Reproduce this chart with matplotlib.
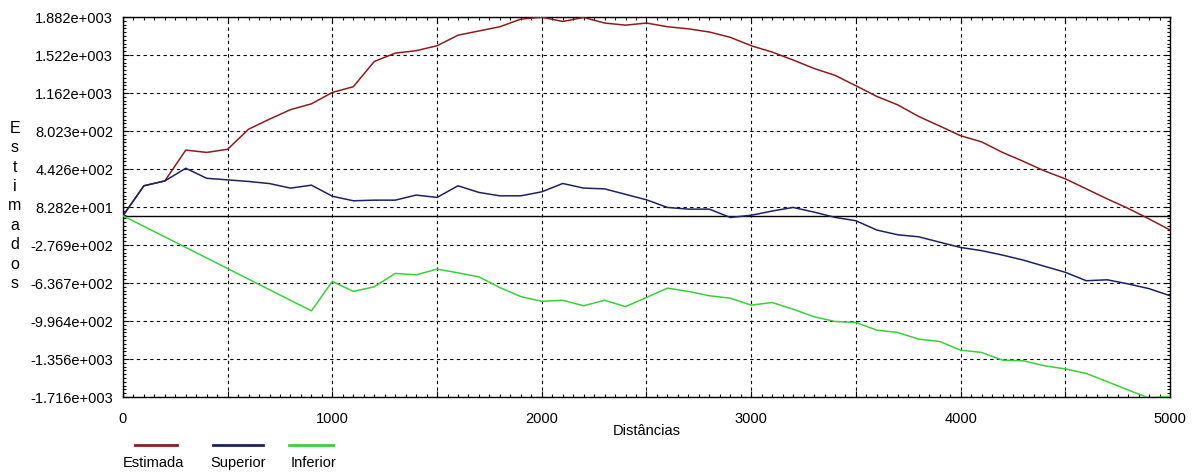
import matplotlib
matplotlib.use("Agg")
import matplotlib.pyplot as plt
import numpy as np
from matplotlib.lines import Line2D
from matplotlib.ticker import MultipleLocator, FixedLocator

plt.rcParams['font.family'] = ['Liberation Sans', 'DejaVu Sans']

distancias = np.arange(0, 5001, 100)

estimada = [0, 284, 330, 622, 600, 630, 820, 915, 1005, 1060,
            1168, 1222, 1461, 1540, 1563, 1610, 1710, 1750, 1790, 1862,
            1880, 1840, 1878, 1825, 1805, 1825, 1790, 1770, 1740, 1690,
            1610, 1550, 1475, 1395, 1330, 1231, 1130, 1050, 940, 850,
            758, 700, 600, 515, 425, 350, 255, 160, 70, -30,
            -135]

superior = [0, 284, 330, 450, 355, 340, 325, 305, 262, 290,
            185, 142, 148, 148, 196, 174, 284, 221, 189, 189,
            227, 306, 262, 255, 203, 151, 79, 63, 63, -16,
            5, 45, 79, 35, -15, -47, -135, -180, -199, -250,
            -300, -330, -372, -420, -478, -535, -615, -606, -645, -690,
            -757]

inferior = [0, -100, -200, -300, -400, -500, -600, -700, -800, -900,
            -622, -716, -672, -546, -559, -505, -540, -578, -680, -765,
            -810, -800, -852, -800, -860, -773, -685, -716, -757, -780,
            -846, -821, -884, -956, -1001, -1010, -1083, -1105, -1168, -1190,
            -1272, -1294, -1367, -1373, -1420, -1450, -1493, -1570, -1650, -1725,
            -1710]

ytick_labels = ["-1.716e+003", "-1.356e+003", "-9.964e+002", "-6.367e+002",
                "-2.769e+002", "8.282e+001", "4.426e+002", "8.023e+002",
                "1.162e+003", "1.522e+003", "1.882e+003"]
ymin, ymax = -1716, 1882

fig = plt.figure(figsize=(11.96, 4.74), dpi=100)
ax = fig.add_axes([0.1028, 0.1624, 0.8755, 0.8017])

c_est = '#8a1e1e'
c_sup = '#1c2260'
c_inf = '#3ccf3c'

ax.axhline(0, color='black', lw=1.0, zorder=2)
ax.plot(distancias, estimada, color=c_est, lw=1.1, zorder=3)
ax.plot(distancias, superior, color=c_sup, lw=1.1, zorder=3)
ax.plot(distancias, inferior, color=c_inf, lw=1.1, zorder=3)

ax.set_xlim(0, 5000)
ax.set_ylim(ymin, ymax)

ax.xaxis.set_major_locator(MultipleLocator(500))
ax.set_xticklabels(['0' if v == 0 else (str(int(v)) if v % 1000 == 0 else '')
                    for v in ax.get_xticks()])
ax.xaxis.set_minor_locator(MultipleLocator(50))
yt = np.linspace(ymin, ymax, 11)
ax.yaxis.set_major_locator(FixedLocator(yt))
ax.set_yticklabels(ytick_labels)
ax.yaxis.set_minor_locator(FixedLocator(np.linspace(ymin, ymax, 101)))

ax.tick_params(which='both', direction='in', top=True, right=True,
               labelsize=10.5, colors='black')
ax.tick_params(axis='x', which='major', pad=11, length=4)
ax.tick_params(axis='y', which='major', pad=7, length=4)
ax.tick_params(which='minor', length=2.5, width=0.8)

ax.grid(True, which='major', color='black', linestyle=(0, (3, 3)), lw=0.8)
for s in ax.spines.values():
    s.set_linewidth(1.0)

ax.set_xlabel("Distâncias", fontsize=10.5, labelpad=-2)
fig.text(15 / 1196, 1 - 206 / 474, "E\ns\nt\ni\nm\na\nd\no\ns",
         ha='center', va='center', fontsize=11.5, linespacing=1.37)

# legend below the axes: short line with label under it
legend_items = [("Estimada", c_est, 135, 177, 153),
                ("Superior", c_sup, 213, 263, 238),
                ("Inferior", c_inf, 289, 333, 313)]
for name, col, x0, x1, xt in legend_items:
    fig.add_artist(Line2D([x0 / 1196, x1 / 1196], [1 - 445 / 474] * 2,
                          color=col, lw=2, transform=fig.transFigure))
    fig.text(xt / 1196, 1 - 463 / 474, name, ha='center', va='center',
             fontsize=10.5)

fig.savefig("out.png", dpi=100)
